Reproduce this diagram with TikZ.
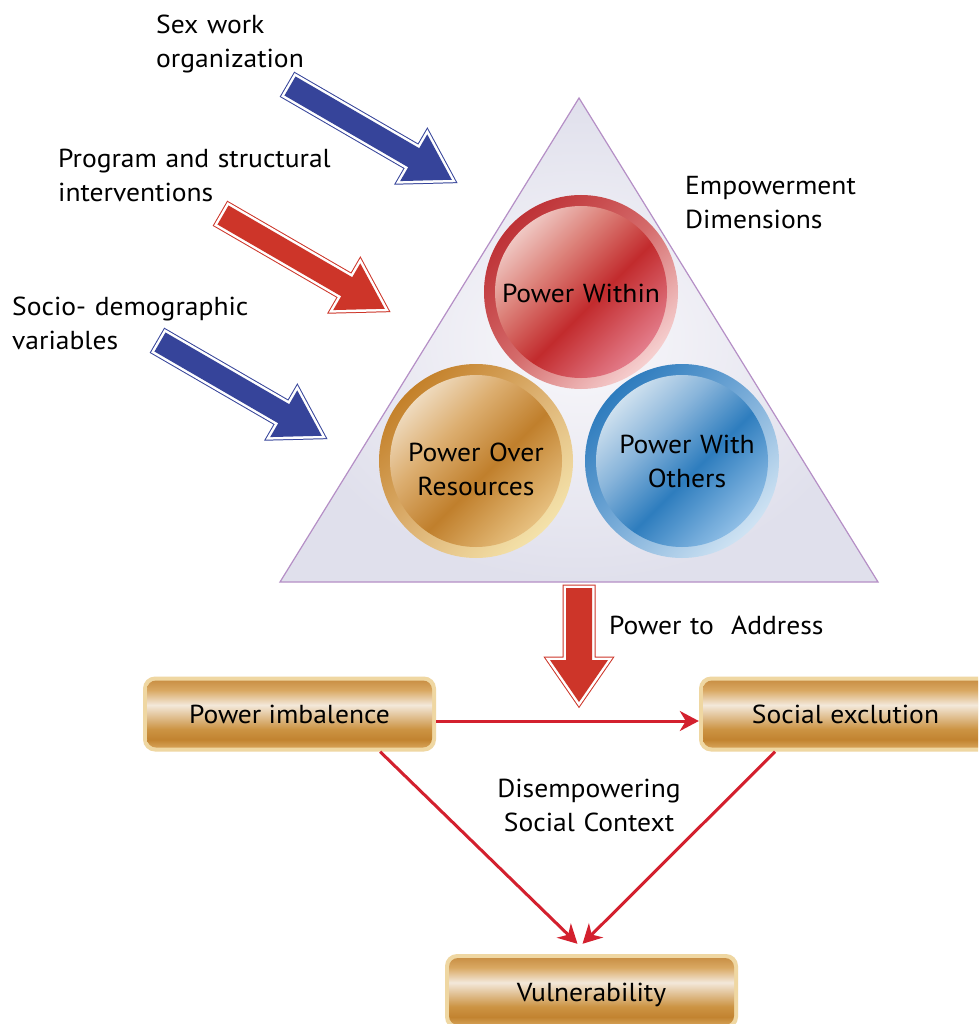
\documentclass[tikz,border=0pt]{standalone}
\usepackage{fontspec}
\setmainfont{PT Sans}[FakeStretch=1.06]
\usetikzlibrary{arrows.meta,calc}
\definecolor{navyarrow}{HTML}{36449A}
\definecolor{redarrow}{HTML}{CD3529}
\definecolor{linered}{HTML}{D3202E}
\definecolor{triedge}{HTML}{B58FC6}
\definecolor{barrim}{HTML}{EFD7A2}
% circle colours
\definecolor{ri1}{HTML}{F4D8D4}\definecolor{ri2}{HTML}{DC8078}\definecolor{ri3}{HTML}{C22B2D}\definecolor{ri4}{HTML}{E98A9A}
\definecolor{rr1}{HTML}{BE3236}\definecolor{rr2}{HTML}{D46A6A}\definecolor{rr3}{HTML}{F6D0D0}
\definecolor{gi1}{HTML}{F3E4CF}\definecolor{gi2}{HTML}{DCAE70}\definecolor{gi3}{HTML}{C07F2C}\definecolor{gi4}{HTML}{EDCA8C}
\definecolor{gr1}{HTML}{C4812A}\definecolor{gr2}{HTML}{DDB273}\definecolor{gr3}{HTML}{F4E2AA}
\definecolor{bi1}{HTML}{DDEAF3}\definecolor{bi2}{HTML}{8BB6DB}\definecolor{bi3}{HTML}{2E7DBE}\definecolor{bi4}{HTML}{9EC8EC}
\definecolor{br1}{HTML}{2E7CBE}\definecolor{br2}{HTML}{79ACD8}\definecolor{br3}{HTML}{CFE3F3}
% bar colours
\definecolor{b1}{HTML}{E0B26C}\definecolor{b2}{HTML}{C28330}\definecolor{b3}{HTML}{CC9444}
\definecolor{b4}{HTML}{F3E8DA}\definecolor{b5}{HTML}{D9A862}\definecolor{b6}{HTML}{C3863A}
\definecolor{tri1}{HTML}{F9F8FB}\definecolor{tri2}{HTML}{E0E0EC}
\pgfdeclarehorizontalshading{redinner}{100bp}{color(0bp)=(ri1); color(25bp)=(ri1); color(40bp)=(ri2); color(54bp)=(ri3); color(75bp)=(ri4); color(100bp)=(ri4)}
\pgfdeclarehorizontalshading{redring}{100bp}{color(0bp)=(rr1); color(25bp)=(rr1); color(50bp)=(rr2); color(75bp)=(rr3); color(100bp)=(rr3)}
\pgfdeclarehorizontalshading{goldinner}{100bp}{color(0bp)=(gi1); color(25bp)=(gi1); color(40bp)=(gi2); color(54bp)=(gi3); color(75bp)=(gi4); color(100bp)=(gi4)}
\pgfdeclarehorizontalshading{goldring}{100bp}{color(0bp)=(gr1); color(25bp)=(gr1); color(50bp)=(gr2); color(75bp)=(gr3); color(100bp)=(gr3)}
\pgfdeclarehorizontalshading{blueinner}{100bp}{color(0bp)=(bi1); color(25bp)=(bi1); color(40bp)=(bi2); color(54bp)=(bi3); color(75bp)=(bi4); color(100bp)=(bi4)}
\pgfdeclarehorizontalshading{bluering}{100bp}{color(0bp)=(br1); color(25bp)=(br1); color(50bp)=(br2); color(75bp)=(br3); color(100bp)=(br3)}
\pgfdeclareverticalshading{barshade}{100bp}{color(0bp)=(b1); color(25bp)=(b1); color(33bp)=(b2); color(40bp)=(b3); color(56bp)=(b4); color(66bp)=(b5); color(75bp)=(b6); color(100bp)=(b6)}
\tikzset{
  lbl/.style={inner sep=0pt, font=\fontsize{26}{34}\selectfont, text=black},
  lbltext/.style={lbl, text width=360pt, align=left, anchor=base west},
  ctext/.style={lbl, text width=220pt, align=center, anchor=base},
  bar/.style={rectangle, rounded corners=12pt, fill=barrim, minimum width=293pt, minimum height=75pt,
    inner sep=0pt, font=\fontsize{26}{34}\selectfont, text height=19pt, text depth=0pt,
    path picture={\shade[shading=barshade, rounded corners=9pt]
      ([shift={(4pt,-4pt)}]path picture bounding box.north west) rectangle
      ([shift={(-4pt,4pt)}]path picture bounding box.south east);}},
  pcircle/.style 2 args={circle, minimum size=194pt, inner sep=0pt, shade, shading=#1, shading angle=-45,
    path picture={\shade[shading=#2, shading angle=-45] (path picture bounding box.center) circle[radius=86pt];}},
  fatstyle/.style={draw=#1, double=white, double distance=5pt, line width=1pt, line join=miter, miter limit=12,
    postaction={fill=#1, draw=none}},
  conn/.style={draw=linered, line width=3pt, -{Stealth[length=19pt, width=20pt, inset=6pt]}},
  pics/fatdiag/.style 2 args={code={
    \path[fatstyle=#1] (0,-11) -- ({#2-44},-11) -- ({#2-44},-27) -- (#2,0) -- ({#2-44},27) -- ({#2-44},11) -- (0,11) -- cycle;}}
}
\begin{document}
\begin{tikzpicture}[x=1pt,y=-1pt]
\clip (0,0) rectangle (978,1024);
\fill[white] (0,0) rectangle (978,1024);
% triangle
\path[draw=triedge, line width=1.2pt, inner color=tri1, outer color=tri2] (579,98) -- (878,582) -- (280,582) -- cycle;
% circles
\node[pcircle={redring}{redinner}] (pw) at (581,292) {};
\node[pcircle={goldring}{goldinner}] (po) at (476,461) {};
\node[pcircle={bluering}{blueinner}] (pwo) at (682,461) {};
\node[ctext] (pwt) at (581,302) {Power Within};
\node[ctext] (pot) at (476,461) {Power Over\\Resources};
\node[ctext] (pwot) at (687,453) {Power With\\Others};
% diagonal arrows
\pic[rotate=-30.1] at (290,86) {fatdiag={navyarrow}{187}};
\pic[rotate=-30.1] at (223,215) {fatdiag={redarrow}{187}};
\pic[rotate=-30.1] at (160,342) {fatdiag={navyarrow}{187}};
% big down arrow
\path[fatstyle=redarrow] (566,588) -- (566,660) -- (550,660) -- (579,702) -- (608,660) -- (592,660) -- (592,588) -- cycle;
% labels
\node[lbltext] (t1) at (156,34) {Sex work\\organization};
\node[lbltext] (t2) at (58,168) {Program and structural\\interventions};
\node[lbltext] (t3) at (12,315) {Socio- demographic\\variables};
\node[lbltext] (t4) at (685,195) {Empowerment\\Dimensions};
\node[lbltext] (t5) at (609,634) {Power to\ \ Address};
\node[ctext] (t6) at (589,797) {Disempowering\\Social Context};
% bars
\node[bar] (pi) at (289.5,714) {Power imbalence};
\node[bar] (se) at (845.5,714) {Social exclution};
\node[bar] (vu) at (591.5,991.5) {Vulnerability};
% connectors
\coordinate (v1) at ([xshift=-14pt,yshift=10pt]vu.north);
\coordinate (v2) at ([xshift=-9pt,yshift=10pt]vu.north);
\draw[conn] ([yshift=-7pt]pi.east) -- ([yshift=-7pt]se.west);
\draw[conn] ($(pi.south west)!0.809!(pi.south east)$) -- (v1);
\draw[conn] ($(se.south west)!0.26!(se.south east)$) -- (v2);
\end{tikzpicture}
\end{document}
